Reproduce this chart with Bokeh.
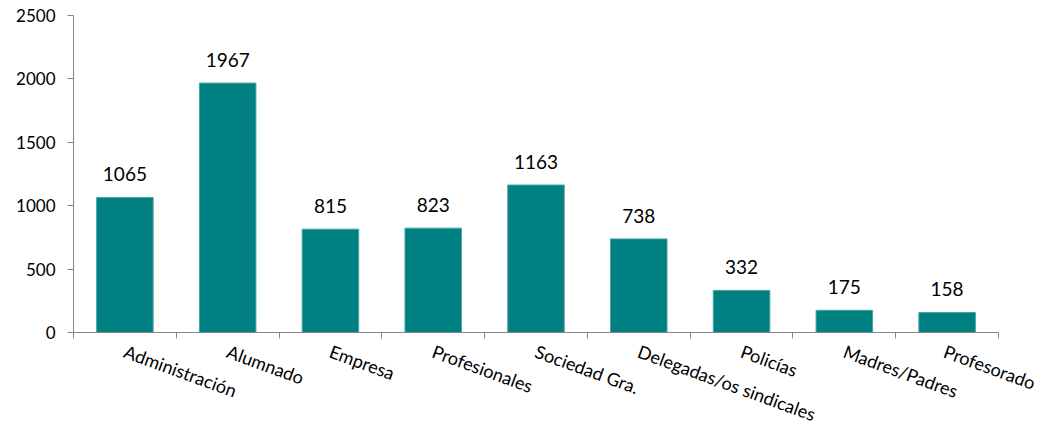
from bokeh.plotting import figure
from bokeh.models import Range1d, FixedTicker, ColumnDataSource, LabelSet
from bokeh.core.properties import value
from bokeh.embed import file_html
from bokeh.resources import INLINE

categories = ["Administración", "Alumnado", "Empresa", "Profesionales", "Sociedad Gra.",
              "Delegadas/os sindicales", "Policías", "Madres/Padres", "Profesorado"]
values = [1065, 1967, 815, 823, 1163, 738, 332, 175, 158]
y_ticks = [0, 500, 1000, 1500, 2000, 2500]

n = len(categories)
xs = [i + 0.5 for i in range(n)]
src = ColumnDataSource(dict(x=xs, top=values, lbl=[str(v) for v in values]))

FONT = "Lato"

p = figure(width=1038, height=439, x_range=Range1d(0, n), y_range=Range1d(0, y_ticks[-1]),
           output_backend="svg", toolbar_location=None,
           min_border_left=73, min_border_right=40, min_border_top=15, min_border_bottom=107)
p.outline_line_color = None
p.xgrid.visible = False
p.ygrid.visible = False
p.background_fill_color = "white"
p.border_fill_color = "white"

p.vbar(x="x", top="top", width=0.55, source=src, fill_color="#008080",
       line_color="#49a6a6", line_width=1)

for ax in (p.xaxis[0], p.yaxis[0]):
    ax.axis_line_color = "#868686"
    ax.major_tick_line_color = "#868686"
    ax.minor_tick_line_color = None
    ax.major_tick_out = 6
    ax.major_tick_in = 0
    ax.major_label_text_font = FONT
    ax.major_label_text_color = "#000000"

# category labels at bar centres, boundary ticks as minor ticks
p.xaxis.ticker = FixedTicker(ticks=xs, minor_ticks=list(range(n + 1)))
p.xaxis.major_label_overrides = {x: c for x, c in zip(xs, categories)}
p.xaxis.major_tick_line_color = None
p.xaxis.minor_tick_line_color = "#868686"
p.xaxis.minor_tick_out = 6
p.xaxis.minor_tick_in = 0
p.xaxis.major_label_orientation = -0.35
p.xaxis.major_label_text_font_size = "18px"
p.xaxis.major_label_standoff = 12

p.yaxis.ticker = FixedTicker(ticks=y_ticks)
p.yaxis.major_label_text_font_size = "17px"
p.yaxis.major_label_standoff = 12

vals = LabelSet(x="x", y="top", text="lbl", source=src, text_align="center",
                text_baseline="bottom", y_offset=16, text_font=value(FONT),
                text_font_size=value("19px"), text_color=value("#000000"))
p.add_layout(vals)

open("out.html", "w").write(file_html(p, INLINE))
